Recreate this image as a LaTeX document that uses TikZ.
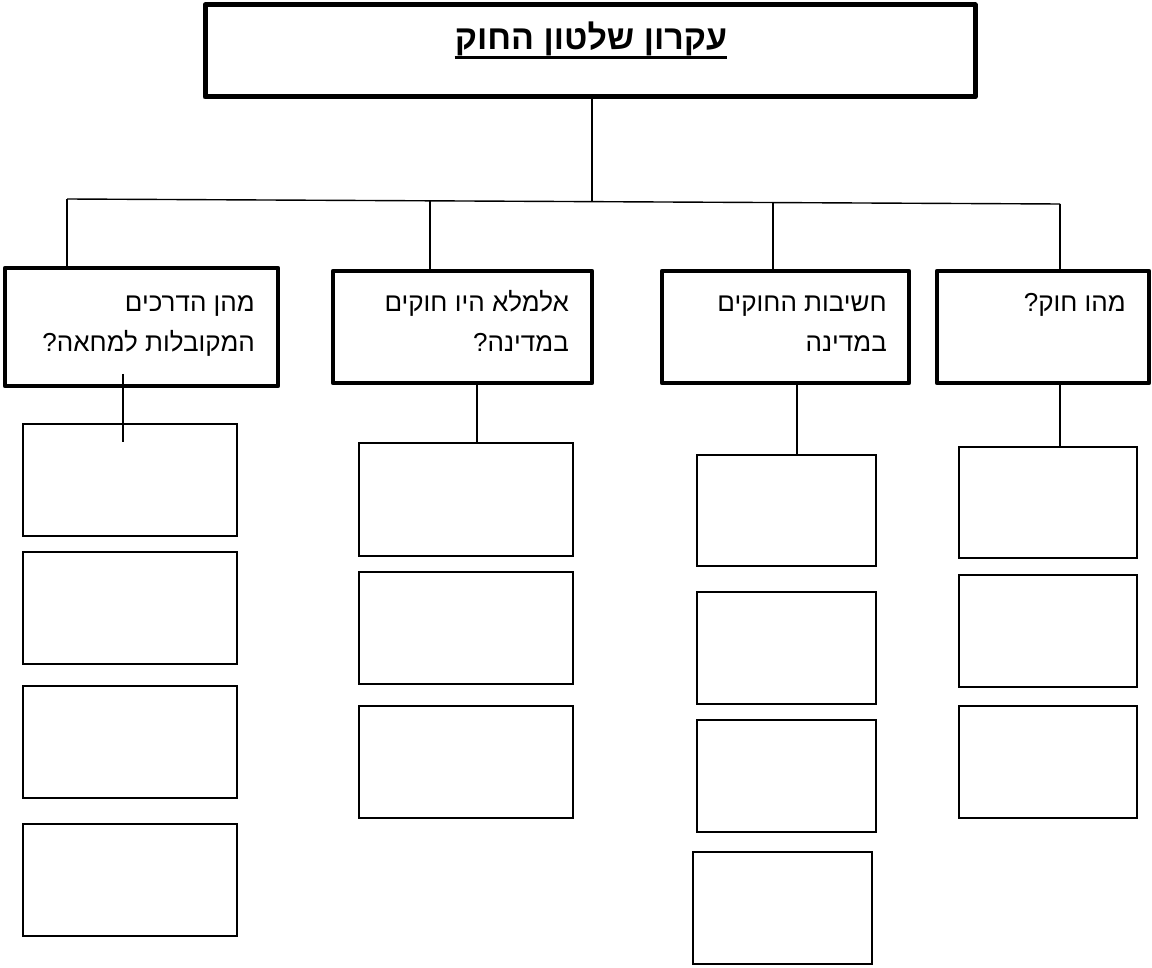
\documentclass[tikz,border=0pt]{standalone}
\usepackage{fontspec}
\TeXXeTstate=1
\newfontfamily\heb[Script=Hebrew]{Liberation Sans}
\usetikzlibrary{calc}
\begin{document}
\begin{tikzpicture}[x=1pt,y=-1pt,
  tbox/.style={draw, line width=5pt, inner sep=0pt, line join=round},
  qbox/.style={draw, line width=4.5pt, inner sep=0pt, line join=round, minimum height=112pt},
  sbox/.style={draw, line width=1.4pt, inner sep=0pt, minimum height=112pt},
  conn/.style={line width=1.4pt},
  qtxt/.style={font=\heb\fontsize{26}{30}\selectfont, inner sep=0pt, anchor=base east},
  ttxt/.style={font=\heb\bfseries\fontsize{34}{40}\selectfont, inner sep=0pt, anchor=base}]
\useasboundingbox (0,0) rectangle (1152,968);

% title
\node[tbox, minimum width=770pt, minimum height=92pt] (title) at (590,51) {};
\node[ttxt] (tt) at (591,50) {\beginR עקרון שלטון החוק\endR};
\draw[line width=3pt] ([yshift=-8pt]tt.base west) -- ([yshift=-8pt]tt.base east);

% question boxes
\node[qbox, minimum width=273pt, minimum height=118pt] (bA) at (141.5,327) {};
\node[qbox, minimum width=259pt] (bB) at (462.5,327) {};
\node[qbox, minimum width=247pt] (bC) at (785.5,327) {};
\node[qbox, minimum width=212pt] (bD) at (1043,327) {};

\node[qtxt] (tA1) at (255,312) {\beginR מהן הדרכים\endR};
\node[qtxt] (tA2) at (255,352) {\beginR המקובלות למחאה?\endR};
\node[qtxt] (tB1) at (569,312) {\beginR אלמלא היו חוקים\endR};
\node[qtxt] (tB2) at (569,352) {\beginR במדינה?\endR};
\node[qtxt] (tC1) at (887,312) {\beginR חשיבות החוקים\endR};
\node[qtxt] (tC2) at (887,352) {\beginR במדינה\endR};
\node[qtxt] (tD1) at (1126,312) {\beginR מהו חוק?\endR};

% bar
\coordinate (jA) at (67,199);
\coordinate (jB) at (430,200.8);
\coordinate (j0) at (592,201.6);
\coordinate (jC) at (773,202.6);
\coordinate (jD) at (1060,204);
\draw[conn] (jA) -- (jD);
\draw[conn] (title.south -| j0) -- (j0);
\draw[conn] (jA) -- (jA |- bA.north);
\draw[conn] (jB) -- (jB |- bB.north);
\draw[conn] (jC) -- (jC |- bC.north);
\draw[conn] (jD) -- (jD |- bD.north);

% column A
\node[sbox, minimum width=214pt] (sA1) at (130,480) {};
\node[sbox, minimum width=214pt] (sA2) at (130,608) {};
\node[sbox, minimum width=214pt] (sA3) at (130,742) {};
\node[sbox, minimum width=214pt] (sA4) at (130,880) {};
\coordinate (cA1) at (123,374);
\coordinate (cA2) at (123,442);
\draw[conn] (cA1) -- (cA2);

% column B
\node[sbox, minimum width=214pt, minimum height=113pt] (sB1) at (466,499.5) {};
\node[sbox, minimum width=214pt] (sB2) at (466,628) {};
\node[sbox, minimum width=214pt] (sB3) at (466,762) {};
\coordinate (xB) at (477,0);
\draw[conn] (bB.south -| xB) -- (sB1.north -| xB);

% column C
\node[sbox, minimum width=179pt, minimum height=111pt] (sC1) at (786.5,510.5) {};
\node[sbox, minimum width=179pt] (sC2) at (786.5,648) {};
\node[sbox, minimum width=179pt] (sC3) at (786.5,776) {};
\node[sbox, minimum width=179pt] (sC4) at (782.5,908) {};
\coordinate (xC) at (797,0);
\draw[conn] (bC.south -| xC) -- (sC1.north -| xC);

% column D
\node[sbox, minimum width=178pt, minimum height=111pt] (sD1) at (1048,502.5) {};
\node[sbox, minimum width=178pt] (sD2) at (1048,631) {};
\node[sbox, minimum width=178pt] (sD3) at (1048,762) {};
\coordinate (xD) at (1060,0);
\draw[conn] (bD.south -| xD) -- (sD1.north -| xD);
\end{tikzpicture}
\end{document}
